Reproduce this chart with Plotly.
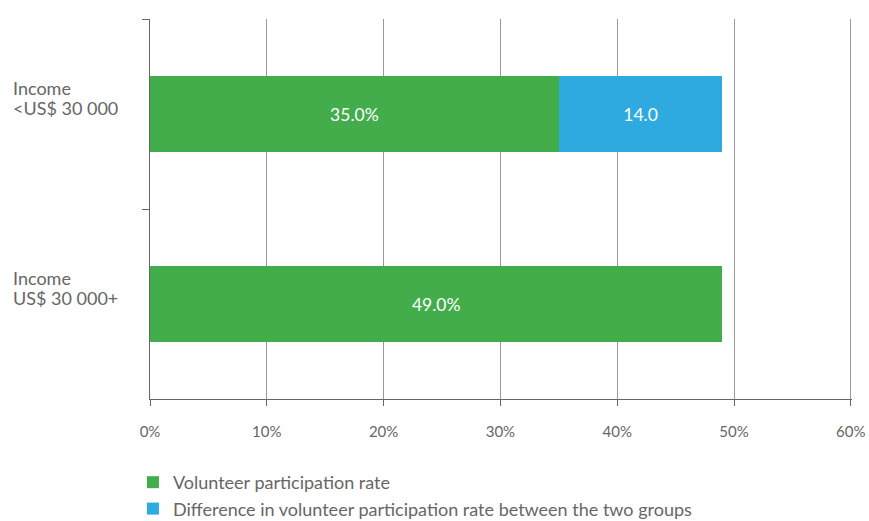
import plotly.graph_objects as go

category_lines = [["Income", "<US$ 30 000"], ["Income", "US$ 30 000+"]]
participation = [35.0, 49.0]
difference = [14.0, None]
participation_labels = ["35.0%", "49.0%"]
difference_labels = ["14.0", ""]
x_ticks = [0, 10, 20, 30, 40, 50, 60]
x_tick_labels = ["0%", "10%", "20%", "30%", "40%", "50%", "60%"]
series_names = ["Volunteer participation rate",
                "Difference in volunteer participation rate between the two groups"]

GREEN = "#43AC4B"
BLUE = "#2EAAE1"
FONT = "Lato, 'Open Sans', sans-serif"
GREY = "#666666"

cat_ids = ["c0", "c1"]

fig = go.Figure()
fig.add_trace(go.Bar(
    y=cat_ids, x=participation, orientation="h", name=series_names[0],
    marker=dict(color=GREEN, line=dict(width=0)),
    text=participation_labels, textposition="inside", insidetextanchor="middle",
    textfont=dict(color="white", size=17.5, family=FONT),
    width=0.4, legendgroup="a", hoverinfo="skip",
))
fig.add_trace(go.Bar(
    y=cat_ids, x=difference, orientation="h", name=series_names[1],
    marker=dict(color=BLUE, line=dict(width=0)),
    text=difference_labels, textposition="inside", insidetextanchor="middle",
    textfont=dict(color="white", size=17.5, family=FONT),
    width=0.4, legendgroup="b", hoverinfo="skip",
))

line_shifts = [26, 6]
for cid, lines in zip(cat_ids, category_lines):
    for line, shift in zip(lines, line_shifts):
        fig.add_annotation(
            x=0, xref="paper", xshift=-139, xanchor="left",
            y=cid, yref="y", yshift=shift, yanchor="middle",
            text=line, showarrow=False, align="left",
            font=dict(size=18, color=GREY, family=FONT),
        )

fig.update_layout(
    width=869, height=521,
    margin=dict(l=150, r=17, t=19, b=122, autoexpand=False),
    barmode="stack",
    plot_bgcolor="white", paper_bgcolor="white",
    font=dict(family=FONT, color=GREY),
    showlegend=True,
    hovermode=False,
    legend=dict(
        orientation="v", x=-0.0243, xanchor="left", xref="paper",
        y=-0.171, yanchor="top",
        font=dict(size=18, color=GREY, family=FONT),
        tracegroupgap=9, traceorder="normal",
        bgcolor="rgba(0,0,0,0)", itemclick=False, itemdoubleclick=False,
    ),
    xaxis=dict(
        range=[0, 60.1], tickvals=x_ticks, ticktext=x_tick_labels,
        showgrid=True, gridcolor="#9a9a9a", gridwidth=1,
        showline=True, linecolor=GREY, linewidth=1,
        ticks="outside", ticklen=6, tickcolor=GREY,
        tickfont=dict(size=15, color=GREY, family=FONT),
        ticklabelstandoff=13, ticklabeloverflow="allow",
        zeroline=False, fixedrange=True, automargin=False,
    ),
    yaxis=dict(
        categoryorder="array", categoryarray=cat_ids, autorange="reversed",
        showticklabels=False, tickson="boundaries",
        ticks="outside", ticklen=7, tickcolor=GREY,
        showline=True, linecolor=GREY, linewidth=1,
        showgrid=False, zeroline=False, fixedrange=True,
        automargin=False,
    ),
)

fig.write_html(
    "out.html",
    config={"displayModeBar": False, "staticPlot": True},
    post_script="document.body.style.margin='0';document.body.style.overflow='hidden';",
)
